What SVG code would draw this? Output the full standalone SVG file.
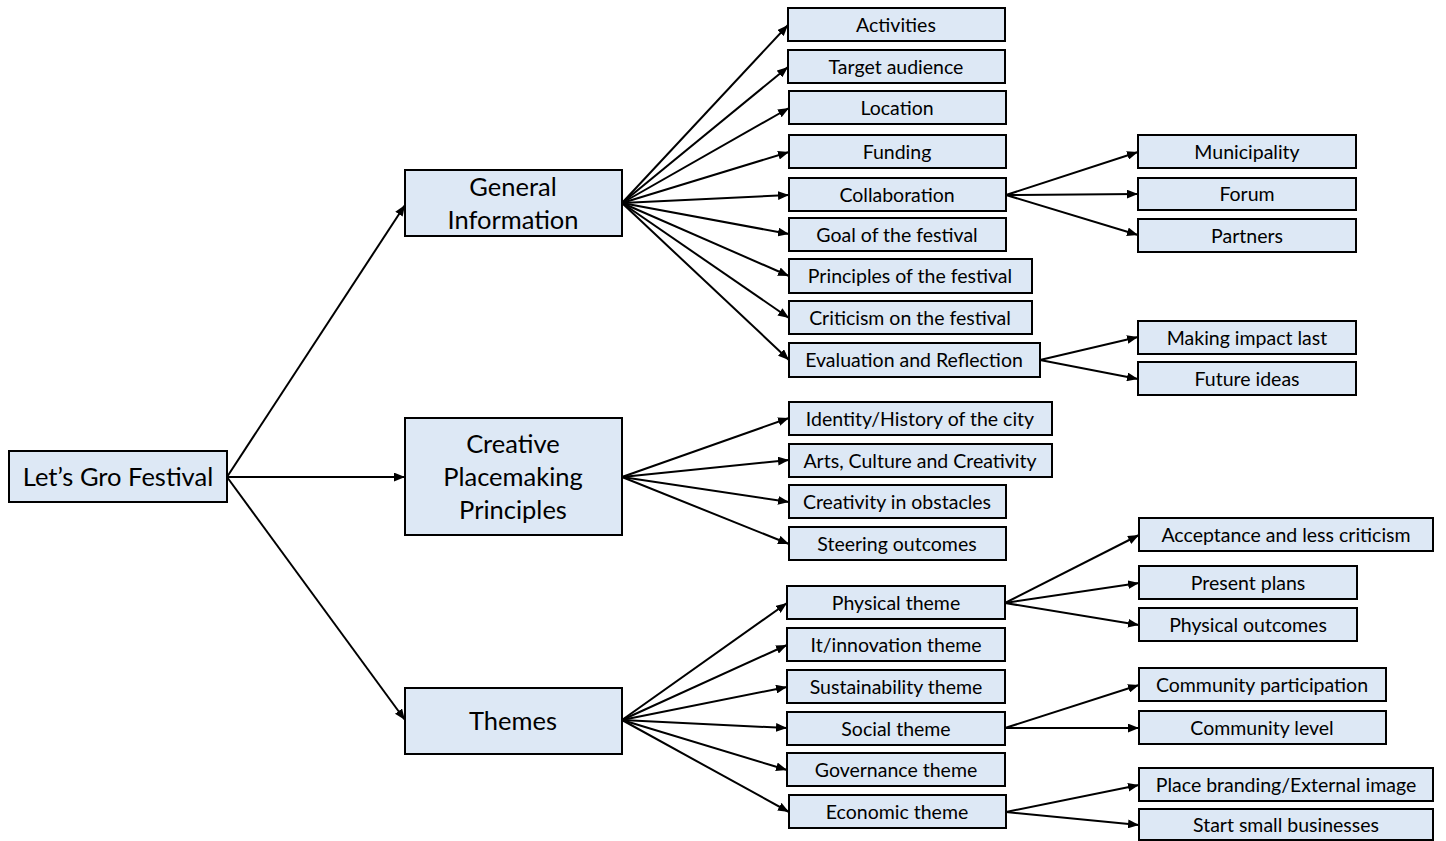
<svg xmlns="http://www.w3.org/2000/svg" width="1446" height="841" viewBox="0 0 1446 841">
<defs>
<style>
.b{fill:#dde8f5;stroke:#000;stroke-width:2}
.t{font-family:Lato,"Liberation Sans",sans-serif;font-size:19.5px;fill:#000;text-anchor:middle;dominant-baseline:central}
.L{font-size:25.5px}
.c line{stroke:#000;stroke-width:2;marker-end:url(#a)}
</style>
<marker id="a" viewBox="0 0 10 8" refX="10" refY="4" markerWidth="11" markerHeight="9" markerUnits="userSpaceOnUse" orient="auto">
<path d="M0,0L10,4L0,8z" fill="#000"/>
</marker>
</defs>
<rect width="1446" height="841" fill="#fff"/>
<g class="c">
<line x1="227" y1="477" x2="405" y2="205"/>
<line x1="227" y1="477" x2="405" y2="477"/>
<line x1="227" y1="477" x2="405" y2="720"/>
<line x1="622" y1="203" x2="788" y2="25"/>
<line x1="622" y1="203" x2="788" y2="67"/>
<line x1="622" y1="203" x2="789" y2="108"/>
<line x1="622" y1="203" x2="789" y2="152"/>
<line x1="622" y1="203" x2="789" y2="195"/>
<line x1="622" y1="203" x2="789" y2="234"/>
<line x1="622" y1="203" x2="789" y2="276"/>
<line x1="622" y1="203" x2="789" y2="318"/>
<line x1="622" y1="203" x2="789" y2="360"/>
<line x1="622" y1="477" x2="789" y2="418"/>
<line x1="622" y1="477" x2="789" y2="460"/>
<line x1="622" y1="477" x2="789" y2="502"/>
<line x1="622" y1="477" x2="789" y2="544"/>
<line x1="622" y1="720" x2="787" y2="603"/>
<line x1="622" y1="720" x2="787" y2="645"/>
<line x1="622" y1="720" x2="787" y2="687"/>
<line x1="622" y1="720" x2="787" y2="728"/>
<line x1="622" y1="720" x2="787" y2="770"/>
<line x1="622" y1="720" x2="789" y2="812"/>
<line x1="1006" y1="195" x2="1138" y2="152"/>
<line x1="1006" y1="195" x2="1138" y2="194"/>
<line x1="1006" y1="195" x2="1138" y2="235"/>
<line x1="1040" y1="360" x2="1138" y2="337"/>
<line x1="1040" y1="360" x2="1138" y2="379"/>
<line x1="1005" y1="603" x2="1139" y2="535"/>
<line x1="1005" y1="603" x2="1139" y2="583"/>
<line x1="1005" y1="603" x2="1139" y2="625"/>
<line x1="1005" y1="728" x2="1139" y2="685"/>
<line x1="1005" y1="728" x2="1139" y2="728"/>
<line x1="1006" y1="812" x2="1139" y2="785"/>
<line x1="1006" y1="812" x2="1139" y2="825"/>
</g>
<g id="root"><rect class="b" x="9" y="451" width="218" height="51"/><text class="t L" x="118" y="476">Let’s Gro Festival</text></g>
<g id="general"><rect class="b" x="405" y="170" width="217" height="66"/><text class="t L" x="513" y="186">General</text><text class="t L" x="513" y="219">Information</text></g>
<g id="creative"><rect class="b" x="405" y="418" width="217" height="117"/><text class="t L" x="513" y="443">Creative</text><text class="t L" x="513" y="476">Placemaking</text><text class="t L" x="513" y="509">Principles</text></g>
<g id="themes"><rect class="b" x="405" y="688" width="217" height="66"/><text class="t L" x="513" y="720">Themes</text></g>
<g id="activities"><rect class="b" x="788" y="8" width="217" height="33"/><text class="t" x="896" y="24">Activities</text></g>
<g id="target"><rect class="b" x="788" y="50" width="217" height="33"/><text class="t" x="896" y="66">Target audience</text></g>
<g id="location"><rect class="b" x="789" y="91" width="217" height="33"/><text class="t" x="897" y="107">Location</text></g>
<g id="funding"><rect class="b" x="789" y="135" width="217" height="33"/><text class="t" x="897" y="151">Funding</text></g>
<g id="collaboration"><rect class="b" x="789" y="178" width="217" height="33"/><text class="t" x="897" y="194">Collaboration</text></g>
<g id="goal"><rect class="b" x="789" y="218" width="217" height="33"/><text class="t" x="897" y="234">Goal of the festival</text></g>
<g id="principles"><rect class="b" x="789" y="259" width="243" height="34"/><text class="t" x="910" y="275">Principles of the festival</text></g>
<g id="criticism"><rect class="b" x="789" y="301" width="243" height="33"/><text class="t" x="910" y="317">Criticism on the festival</text></g>
<g id="evaluation"><rect class="b" x="789" y="343" width="251" height="34"/><text class="t" x="914" y="359">Evaluation and Reflection</text></g>
<g id="identity"><rect class="b" x="789" y="402" width="263" height="33"/><text class="t" x="920" y="418">Identity/History of the city</text></g>
<g id="arts"><rect class="b" x="789" y="444" width="263" height="33"/><text class="t" x="920" y="460">Arts, Culture and Creativity</text></g>
<g id="obstacles"><rect class="b" x="789" y="485" width="217" height="33"/><text class="t" x="897" y="501">Creativity in obstacles</text></g>
<g id="steering"><rect class="b" x="789" y="527" width="217" height="33"/><text class="t" x="897" y="543">Steering outcomes</text></g>
<g id="physical"><rect class="b" x="787" y="586" width="218" height="33"/><text class="t" x="896" y="602">Physical theme</text></g>
<g id="it"><rect class="b" x="787" y="628" width="218" height="33"/><text class="t" x="896" y="644">It/innovation theme</text></g>
<g id="sustainability"><rect class="b" x="787" y="670" width="218" height="33"/><text class="t" x="896" y="686">Sustainability theme</text></g>
<g id="social"><rect class="b" x="787" y="712" width="218" height="33"/><text class="t" x="896" y="728">Social theme</text></g>
<g id="governance"><rect class="b" x="787" y="753" width="218" height="33"/><text class="t" x="896" y="769">Governance theme</text></g>
<g id="economic"><rect class="b" x="789" y="795" width="217" height="33"/><text class="t" x="897" y="811">Economic theme</text></g>
<g id="municipality"><rect class="b" x="1138" y="135" width="218" height="33"/><text class="t" x="1247" y="151">Municipality</text></g>
<g id="forum"><rect class="b" x="1138" y="178" width="218" height="32"/><text class="t" x="1247" y="193">Forum</text></g>
<g id="partners"><rect class="b" x="1138" y="219" width="218" height="33"/><text class="t" x="1247" y="235">Partners</text></g>
<g id="impact"><rect class="b" x="1138" y="321" width="218" height="33"/><text class="t" x="1247" y="337">Making impact last</text></g>
<g id="future"><rect class="b" x="1138" y="362" width="218" height="33"/><text class="t" x="1247" y="378">Future ideas</text></g>
<g id="acceptance"><rect class="b" x="1139" y="518" width="294" height="33"/><text class="t" x="1286" y="534">Acceptance and less criticism</text></g>
<g id="present"><rect class="b" x="1139" y="566" width="218" height="33"/><text class="t" x="1248" y="582">Present plans</text></g>
<g id="outcomes"><rect class="b" x="1139" y="608" width="218" height="33"/><text class="t" x="1248" y="624">Physical outcomes</text></g>
<g id="participation"><rect class="b" x="1139" y="668" width="247" height="33"/><text class="t" x="1262" y="684">Community participation</text></g>
<g id="level"><rect class="b" x="1139" y="711" width="247" height="33"/><text class="t" x="1262" y="727">Community level</text></g>
<g id="branding"><rect class="b" x="1139" y="768" width="294" height="33"/><text class="t" x="1286" y="784">Place branding/External image</text></g>
<g id="business"><rect class="b" x="1139" y="809" width="294" height="31"/><text class="t" x="1286" y="824">Start small businesses</text></g>
</svg>
